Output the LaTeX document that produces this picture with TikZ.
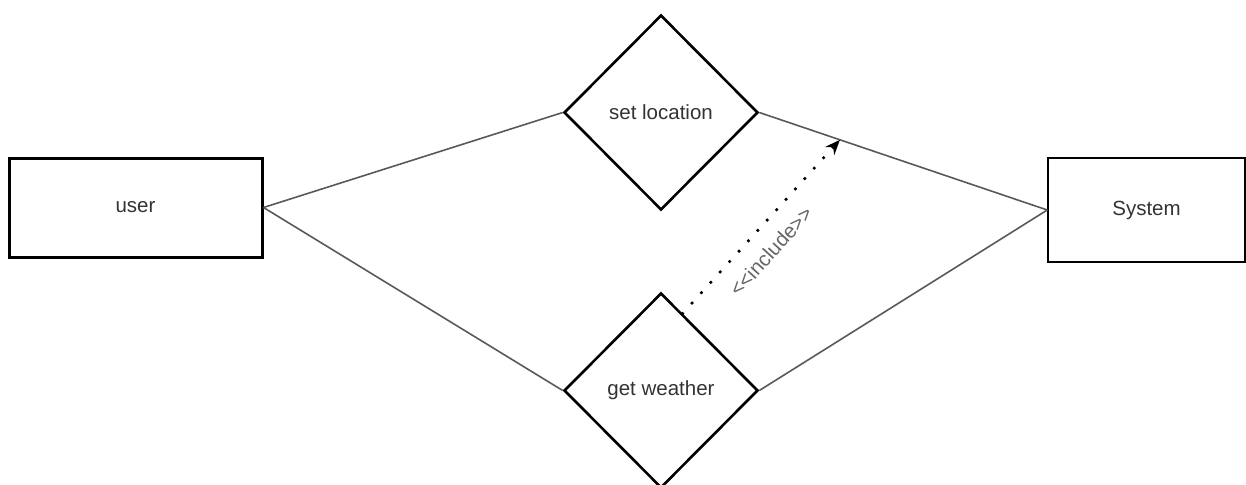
\documentclass[tikz,border=0pt]{standalone}
\usepackage{fontspec}
\setmainfont{Liberation Sans}
\usetikzlibrary{shapes.geometric,calc,arrows.meta}
\tikzset{
  actor/.style={draw=black, rectangle, font=\fontsize{20.5}{24}\selectfont, text=black!80},
  usecase/.style={draw=black, diamond, line width=2.6pt, minimum width=194pt, minimum height=195pt,
    inner sep=0pt, font=\fontsize{20.5}{24}\selectfont, text=black!80},
  link/.style={draw=black!65, line width=1.6pt},
  incl/.style={draw=black, line width=3.6pt, line cap=round, dash pattern=on 0pt off 14pt,
    -{Stealth[length=15pt,width=12pt]}},
  incllabel/.style={font=\fontsize{20.5}{24}\selectfont, text=black!60}
}
\begin{document}
\begin{tikzpicture}[x=1pt,y=-1pt]
\useasboundingbox (0,0) rectangle (1246,484);
\begin{scope}
\clip (0,0) rectangle (1246,484);
\node[actor, line width=3pt, minimum width=253pt, minimum height=99pt] (user) at (135.5,207.5) {user};
\node[actor, line width=1.5pt, minimum width=197pt, minimum height=104pt] (sys) at (1146.5,210) {System};
\node[usecase] (sl) at (661,112.5) {set location};
\node[usecase] (gw) at (661,390.5) {get weather};
\draw[link] (user.east) -- (sl.west);
\draw[link] (user.east) -- (gw.west);
\draw[link] (sl.east) -- (sys.west);
\draw[link] (gw.east) -- (sys.west);
\coordinate (inclfrom) at ($(gw.north)!0.22!(gw.east)$);
\coordinate (inclto) at ($(sl.east)!0.28!(sys.west)$);
\draw[incl] (inclfrom) -- node[incllabel, pos=0.45, sloped, below=11pt] {{<}{<}include{>}{>}} (inclto);
\end{scope}
\end{tikzpicture}
\end{document}
